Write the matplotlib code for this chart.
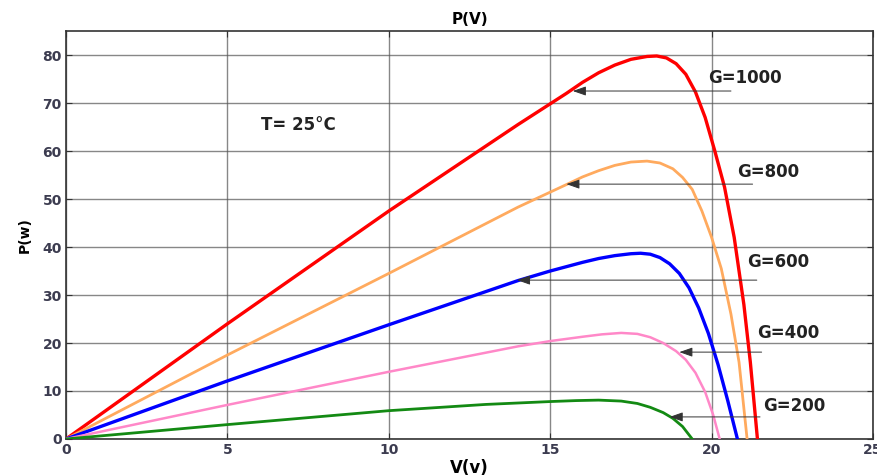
import matplotlib
matplotlib.use("Agg")
import matplotlib.pyplot as plt

# ---------------------------------------------------------------------------
# Data (V in volts, P in watts)
# ---------------------------------------------------------------------------
v_1000 = [0, 5, 10, 14, 15.5, 16.0, 16.5, 17.0, 17.5, 18.0, 18.3, 18.6, 18.9, 19.2,
          19.5, 19.8, 20.1, 20.4, 20.7, 21.0, 21.2, 21.42]
p_1000 = [0, 24.0, 47.5, 65.5, 72.0, 74.3, 76.3, 77.9, 79.1, 79.7, 79.8, 79.4, 78.2, 76.0,
          72.3, 67.0, 60.0, 52.5, 42.0, 28.0, 16.0, 0]

v_800 = [0, 5, 10, 14, 15.5, 16.0, 16.5, 17.0, 17.5, 18.0, 18.4, 18.8, 19.1, 19.4,
         19.7, 20.0, 20.3, 20.6, 20.85, 21.1]
p_800 = [0, 17.5, 34.5, 48.3, 53.0, 54.6, 55.9, 57.0, 57.7, 57.9, 57.5, 56.3, 54.5, 52.0,
         47.5, 42.0, 35.5, 26.0, 16.0, 0]

v_600 = [0, 5, 10, 14, 15.0, 15.5, 16.0, 16.5, 17.0, 17.5, 17.8, 18.1, 18.4, 18.7,
         19.0, 19.3, 19.6, 19.9, 20.2, 20.5, 20.8]
p_600 = [0, 12.1, 23.8, 33.0, 35.0, 35.9, 36.8, 37.6, 38.2, 38.6, 38.7, 38.5, 37.8, 36.5,
         34.5, 31.5, 27.3, 22.0, 15.5, 8.0, 0]

v_400 = [0, 5, 10, 14, 15.0, 16.0, 16.6, 17.2, 17.7, 18.1, 18.5, 18.9, 19.2, 19.5,
         19.8, 20.05, 20.25]
p_400 = [0, 7.1, 14.0, 19.3, 20.4, 21.3, 21.8, 22.1, 21.9, 21.2, 20.0, 18.3, 16.5, 13.8,
         9.8, 5.0, 0]

v_200 = [0, 5, 10, 13, 14, 15.0, 15.8, 16.5, 17.2, 17.7, 18.1, 18.5, 18.8, 19.1, 19.4]
p_200 = [0, 3.0, 5.9, 7.2, 7.5, 7.8, 8.0, 8.1, 7.9, 7.4, 6.6, 5.5, 4.3, 2.6, 0]

labels = ["G=1000", "G=800", "G=600", "G=400", "G=200"]
# arrow tail (text side), arrow tip on the curve, and label anchor
arrow_tail = [(20.6, 72.5), (21.27, 53.1), (21.4, 33.1), (21.55, 18.1), (21.5, 4.6)]
arrow_tip = [(15.7, 72.5), (15.5, 53.1), (13.97, 33.1), (19.0, 18.1), (18.7, 4.6)]
label_pos = [(19.9, 75.3), (20.8, 55.6), (21.1, 36.9), (21.4, 22.1), (21.6, 6.9)]

series = [
    (v_1000, p_1000, "#ff0000", 2.4),
    (v_800, p_800, "#ffaa5e", 2.0),
    (v_600, p_600, "#0000ff", 2.4),
    (v_400, p_400, "#ff88c8", 1.8),
    (v_200, p_200, "#138a13", 2.0),
]

fig = plt.figure(figsize=(8.78, 4.75), dpi=100)
ax = fig.add_axes([0.0752, 0.0758, 0.9191, 0.8589])

for v, p, c, lw in series:
    ax.plot(v, p, color=c, lw=lw, zorder=3, solid_joinstyle="round")

for lab, tail, tip, pos in zip(labels, arrow_tail, arrow_tip, label_pos):
    ax.annotate("", xy=tip, xytext=tail,
                arrowprops=dict(arrowstyle="-|>,head_length=0.8,head_width=0.28",
                                color="#333333", lw=0.7, shrinkA=0, shrinkB=0),
                zorder=4)
    ax.text(pos[0], pos[1], lab, fontsize=12, fontweight="bold",
            color="#222222", ha="left", va="center")

ax.text(6.05, 65.4, "T= 25°C", fontsize=12, fontweight="bold",
        color="#222222", ha="left", va="center")

ax.set_xlim(0, 25)
ax.set_ylim(0, 85)
ax.set_xticks([0, 5, 10, 15, 20, 25])
ax.set_yticks(range(0, 81, 10))
ax.grid(True, color="#555555", lw=1.0, alpha=0.7)
ax.set_axisbelow(True)
ax.tick_params(direction="in", top=True, right=True, length=4,
               colors="#333333", labelsize=10, pad=3)
for lab in ax.get_xticklabels() + ax.get_yticklabels():
    lab.set_fontweight("bold")
    lab.set_color("#3c3c50")
for s in ax.spines.values():
    s.set_color("#333333")
    s.set_linewidth(1.2)

ax.set_title("P(V)", fontsize=11, fontweight="bold", pad=5)
ax.set_xlabel("V(v)", fontsize=12, fontweight="bold", labelpad=1)
ax.set_ylabel("P(w)", fontsize=10, fontweight="bold", labelpad=8)

fig.savefig("out.png", dpi=100)
